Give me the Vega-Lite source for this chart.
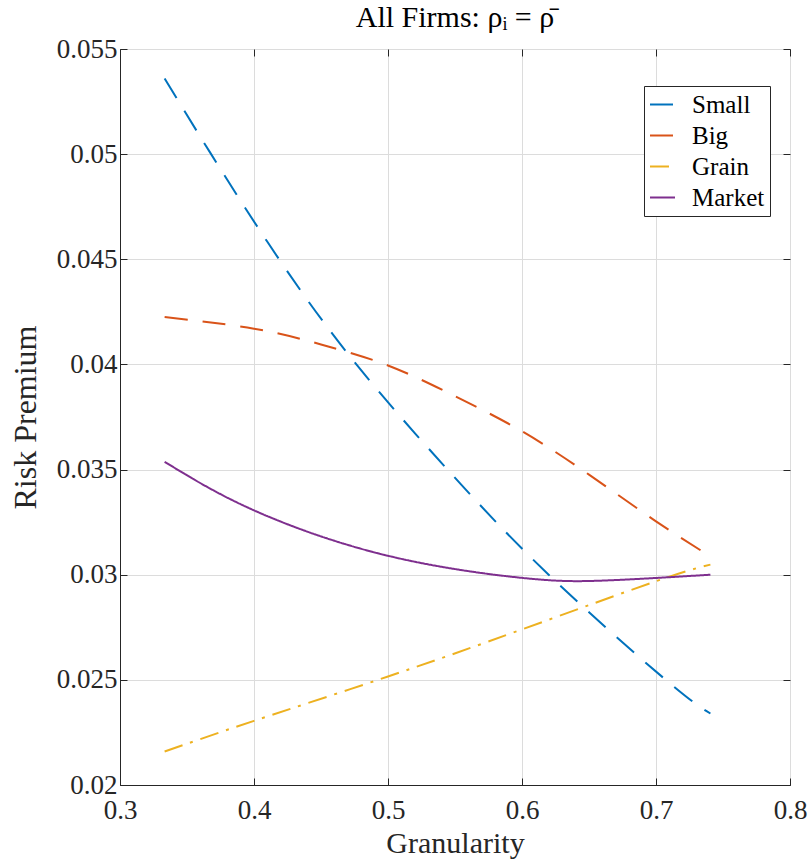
{
  "$schema": "https://vega.github.io/schema/vega-lite/v6.json",
  "autosize": {"type": "none"},
  "padding": {"left": 120, "top": 49, "right": 20, "bottom": 78},
  "width": 670,
  "height": 736,
  "background": "white",
  "title": {
    "text": "All Firms:  ρᵢ = ρ̄",
    "font": "Liberation Serif",
    "fontSize": 30,
    "fontWeight": "normal",
    "color": "#000000",
    "anchor": "middle",
    "offset": 2
  },
  "config": {
    "font": "Liberation Serif",
    "view": {"stroke": "#262626", "strokeWidth": 1},
    "axis": {
      "labelFont": "Liberation Serif",
      "titleFont": "Liberation Serif",
      "labelFontSize": 27,
      "titleFontSize": 30,
      "titleFontWeight": "normal",
      "labelColor": "#262626",
      "titleColor": "#262626",
      "domainColor": "#262626",
      "tickColor": "#262626",
      "gridColor": "#dcdcdc",
      "gridWidth": 1,
      "tickSize": -7,
      "domain": true
    },
    "legend": {
      "labelFont": "Liberation Serif",
      "labelFontSize": 25,
      "labelColor": "#000000"
    }
  },
  "data": {
    "values": [
      {"series": "Small", "x": 0.3333, "y": 0.0536},
      {"series": "Small", "x": 0.368, "y": 0.05},
      {"series": "Small", "x": 0.4187, "y": 0.045},
      {"series": "Small", "x": 0.4764, "y": 0.04},
      {"series": "Small", "x": 0.5444, "y": 0.035},
      {"series": "Small", "x": 0.6199, "y": 0.03},
      {"series": "Small", "x": 0.7073, "y": 0.025},
      {"series": "Small", "x": 0.7406, "y": 0.0234},
      {"series": "Big", "x": 0.3333, "y": 0.04225},
      {"series": "Big", "x": 0.4, "y": 0.0417},
      {"series": "Big", "x": 0.45, "y": 0.04095},
      {"series": "Big", "x": 0.5, "y": 0.03995},
      {"series": "Big", "x": 0.55, "y": 0.03849},
      {"series": "Big", "x": 0.6, "y": 0.03682},
      {"series": "Big", "x": 0.65, "y": 0.03476},
      {"series": "Big", "x": 0.7, "y": 0.03254},
      {"series": "Big", "x": 0.7406, "y": 0.03087},
      {"series": "Grain", "x": 0.3333, "y": 0.02159},
      {"series": "Grain", "x": 0.4, "y": 0.02305},
      {"series": "Grain", "x": 0.5, "y": 0.02516},
      {"series": "Grain", "x": 0.6, "y": 0.0274},
      {"series": "Grain", "x": 0.7, "y": 0.02969},
      {"series": "Grain", "x": 0.7406, "y": 0.03048},
      {"series": "Market", "x": 0.3333, "y": 0.03537},
      {"series": "Market", "x": 0.4, "y": 0.03306},
      {"series": "Market", "x": 0.5, "y": 0.0309},
      {"series": "Market", "x": 0.6, "y": 0.02985},
      {"series": "Market", "x": 0.66, "y": 0.02972},
      {"series": "Market", "x": 0.7406, "y": 0.03}
    ]
  },
  "layer": [
    {
      "mark": {"type": "line", "strokeWidth": 2, "interpolate": "natural", "clip": true},
      "encoding": {
        "x": {
          "field": "x", "type": "quantitative",
          "scale": {"domain": [0.3, 0.8], "nice": false, "zero": false},
          "axis": {"title": "Granularity", "values": [0.3, 0.4, 0.5, 0.6, 0.7, 0.8], "format": ".1f", "labelPadding": 19, "titlePadding": 5, "labelFlush": false, "labelOverlap": false}
        },
        "y": {
          "field": "y", "type": "quantitative",
          "scale": {"domain": [0.02, 0.055], "nice": false, "zero": false},
          "axis": {"title": "Risk Premium", "titleFontSize": 32, "values": [0.02, 0.025, 0.03, 0.035, 0.04, 0.045, 0.05, 0.055], "format": "~g", "labelPadding": 10, "titlePadding": 14, "labelFlush": false, "labelOverlap": false}
        },
        "color": {
          "field": "series", "type": "nominal",
          "scale": {"domain": ["Small", "Big", "Grain", "Market"], "range": ["#0072BD", "#D95319", "#EDB120", "#7E2F8E"]},
          "legend": {
            "title": null,
            "orient": "none",
            "legendX": 524,
            "legendY": 37,
            "strokeColor": "#262626",
            "fillColor": "white",
            "padding": 5,
            "rowPadding": 4,
            "symbolType": "stroke",
            "symbolSize": 625,
            "symbolStrokeWidth": 2,
            "labelOffset": 16
          }
        },
        "strokeDash": {
          "field": "series", "type": "nominal",
          "scale": {"domain": ["Small", "Big", "Grain", "Market"], "range": [[23, 15], [23, 15], [19, 8, 3, 8], [1, 0]]},
          "legend": {
            "title": null,
            "orient": "none",
            "legendX": 524,
            "legendY": 37,
            "strokeColor": "#262626",
            "fillColor": "white",
            "padding": 5,
            "rowPadding": 4,
            "symbolType": "stroke",
            "symbolSize": 625,
            "symbolStrokeWidth": 2,
            "labelOffset": 16
          }
        }
      }
    },
    {
      "mark": {"type": "line", "opacity": 0},
      "encoding": {
        "x": {
          "field": "x", "type": "quantitative",
          "axis": {"orient": "top", "title": null, "labels": false, "grid": false, "domain": false, "values": [0.3, 0.4, 0.5, 0.6, 0.7, 0.8]}
        },
        "y": {
          "field": "y", "type": "quantitative",
          "axis": {"orient": "right", "title": null, "labels": false, "grid": false, "domain": false, "values": [0.02, 0.025, 0.03, 0.035, 0.04, 0.045, 0.05, 0.055]}
        },
        "detail": {"field": "series", "type": "nominal"}
      }
    }
  ],
  "resolve": {"axis": {"x": "independent", "y": "independent"}}
}
